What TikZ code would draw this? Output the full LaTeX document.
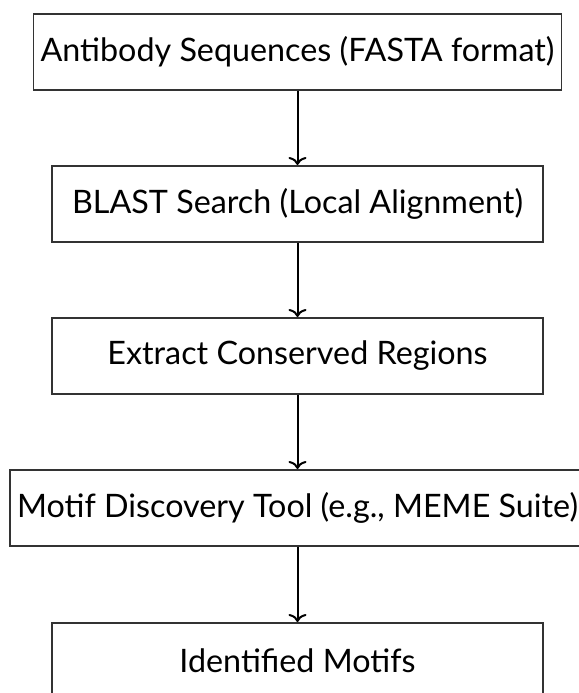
\documentclass[tikz,border=0pt]{standalone}
\usepackage{fontspec}
\setmainfont{Lato}
\usetikzlibrary{arrows.meta}
\begin{document}
\begin{tikzpicture}[x=1pt,y=1pt,
  stepbox/.style={draw=black!80, line width=1.6pt, minimum width=491pt, minimum height=76pt,
    inner xsep=7pt, font=\fontsize{32.3}{38}\selectfont, anchor=north},
  flow/.style={-{To[length=8pt,width=18pt]}, line width=2pt, black}]
\useasboundingbox (0,0) rectangle (578,-693);
\node[stepbox] (a) at (297.5,-13) {Antibody Sequences (FASTA format)};
\node[stepbox] (b) at (297.5,-165) {BLAST Search (Local Alignment)};
\node[stepbox] (c) at (297.5,-317) {Extract Conserved Regions};
\node[stepbox] (d) at (297.5,-469) {Motif Discovery Tool (e.g., MEME Suite)};
\node[stepbox] (e) at (297.5,-622) {Identified Motifs};
\draw[flow] (a) -- (b);
\draw[flow] (b) -- (c);
\draw[flow] (c) -- (d);
\draw[flow] (d) -- (e);
\end{tikzpicture}
\end{document}
